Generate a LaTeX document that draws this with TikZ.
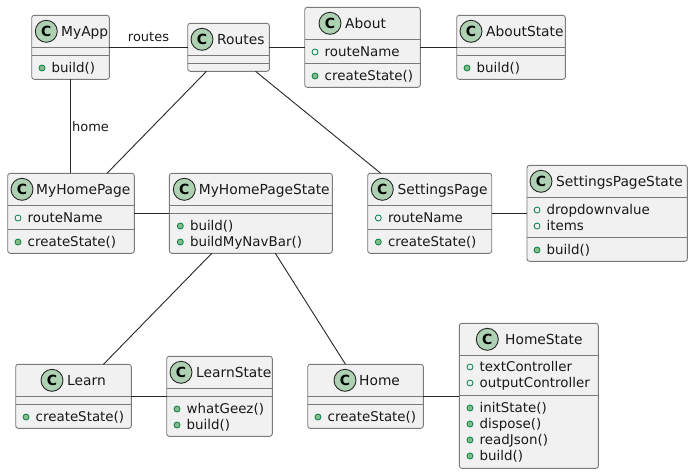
\documentclass[tikz,border=0pt]{standalone}
\usepackage{fontspec}
\setmainfont{DejaVu Sans}
\newcounter{mbr}
\definecolor{boxfill}{HTML}{F1F1F1}
\definecolor{boxline}{HTML}{7A7A7A}
\definecolor{spot}{HTML}{ADD1B2}
\definecolor{mfill}{HTML}{84BE84}
\definecolor{mline}{HTML}{038048}
\tikzset{
  umlbox/.style={draw=boxline,fill=boxfill,line width=0.9pt,rounded corners=2.5pt,inner sep=0pt,outer sep=0pt},
  divider/.style={draw=boxline,line width=0.9pt},
  spotc/.style={circle,draw=black!85,fill=spot,line width=0.9pt,minimum size=22pt,inner sep=0pt,font=\fontsize{14}{14}\selectfont\bfseries},
  txt/.style={inner sep=0pt,anchor=base west,font=\fontsize{13.4}{16}\selectfont,text=black!90},
  ttl/.style={inner sep=0pt,anchor=base west,font=\fontsize{13.8}{16}\selectfont,text=black!90},
  lbl/.style={inner sep=0pt,anchor=base,font=\fontsize{13}{14}\selectfont,text=black!90},
  attrdot/.style={draw=mline,line width=0.8pt,fill=none},
  methdot/.style={draw=mline,line width=0.8pt,fill=mfill},
  conn/.style={draw=black!85,line width=0.9pt},
}
% name, x1,y1,x2,y2, div1, div2, spot x, text x, title
\newcommand{\umlclass}[9]{%
  \node[umlbox,minimum width=#4 pt-#2 pt,minimum height=#5 pt-#3 pt] (#1) at ({(#2+#4)/2},{(#3+#5)/2}) {};
  \def\tmpAy{#3}\def\tmpAx{#2}\def\tmpBx{#4}%
  \umlclassB{#1}{#6}{#7}{#8}{#9}%
}
\newcommand{\umlclassB}[5]{%
  \draw[divider] (\tmpAx,#2) -- (\tmpBx,#2);
  \draw[divider] (\tmpAx,#3) -- (\tmpBx,#3);
  \node[spotc] (#1-spot) at (#4,#2-16) {C};
  \node[ttl] (#1-title) at (#5,#2-11) {\csname title@#1\endcsname};
}
\newcommand{\settitle}[2]{\expandafter\def\csname title@#1\endcsname{#2}}
% dot x, text baseline y centre, text, dot style
\newcommand{\mbr}[4]{%
  \stepcounter{mbr}%
  \draw[#4] (#1,#2) circle (3pt);
  \node[txt] (m\arabic{mbr}) at (#1+9.5,#2+4.7) {#3};
}
\begin{document}
\begin{tikzpicture}[x=1pt,y=-1pt]
\useasboundingbox (0,0) rectangle (692,474);
\settitle{myapp}{MyApp}\settitle{routes}{Routes}\settitle{about}{About}\settitle{aboutstate}{AboutState}
\settitle{myhomepage}{MyHomePage}\settitle{myhomepagestate}{MyHomePageState}\settitle{settingspage}{SettingsPage}\settitle{settingspagestate}{SettingsPageState}
\settitle{learn}{Learn}\settitle{learnstate}{LearnState}\settitle{home}{Home}\settitle{homestate}{HomeState}

\umlclass{myapp}{31.7}{15.3}{109.3}{79.3}{47.3}{55.3}{46.3}{61}
\umlclass{routes}{187.7}{23.3}{269.3}{71.3}{55.3}{63.3}{202}{217}
\umlclass{about}{304.7}{7.3}{420.3}{87.3}{39.3}{63.3}{330}{345}
\umlclass{aboutstate}{456.7}{15.3}{565.3}{79.3}{47.3}{55.3}{471}{486}
\umlclass{myhomepage}{7.7}{173.3}{134.3}{253.3}{205.3}{229.3}{22}{36}
\umlclass{myhomepagestate}{169.3}{173.3}{332.3}{253.3}{205.3}{213.3}{184.3}{198.7}
\umlclass{settingspage}{367.7}{173.3}{491.7}{253.3}{205.3}{229.3}{382.3}{397.3}
\umlclass{settingspagestate}{527}{165.3}{687.3}{261.3}{197.3}{237.3}{541}{556}
\umlclass{learn}{15.7}{364.3}{131.3}{428.3}{396.3}{404.3}{52}{67}
\umlclass{learnstate}{166.7}{356.3}{272.3}{436.3}{388.3}{396.3}{181}{196}
\umlclass{home}{307.7}{364.3}{423.3}{428.3}{396.3}{404.3}{345}{359}
\umlclass{homestate}{459.3}{323.3}{598.3}{468.3}{355.3}{395.3}{487.3}{505}

\mbr{42}{68}{build()}{methdot}
\mbr{315}{52}{routeName}{attrdot}
\mbr{315}{76}{createState()}{methdot}
\mbr{467}{68}{build()}{methdot}
\mbr{18}{218}{routeName}{attrdot}
\mbr{18}{242}{createState()}{methdot}
\mbr{180.3}{226}{build()}{methdot}
\mbr{180.3}{242}{buildMyNavBar()}{methdot}
\mbr{378.3}{218}{routeName}{attrdot}
\mbr{378.3}{242}{createState()}{methdot}
\mbr{537}{210}{dropdownvalue}{attrdot}
\mbr{537}{226}{items}{attrdot}
\mbr{537}{250}{build()}{methdot}
\mbr{26}{417}{createState()}{methdot}
\mbr{177}{409}{whatGeez()}{methdot}
\mbr{177}{425}{build()}{methdot}
\mbr{318}{417}{createState()}{methdot}
\mbr{470}{367}{textController}{attrdot}
\mbr{470}{383}{outputController}{attrdot}
\mbr{470}{408}{initState()}{methdot}
\mbr{470}{424}{dispose()}{methdot}
\mbr{470}{440}{readJson()}{methdot}
\mbr{470}{456}{build()}{methdot}

\draw[conn] (myapp.east) -- (routes.west);
\draw[conn] (routes.east) -- (about.west);
\draw[conn] (about.east) -- (aboutstate.west);
\draw[conn] (myapp.south) -- (myhomepage.north -| myapp.south);
\draw[conn] ([xshift=-22pt]routes.south) -- ([xshift=36pt]myhomepage.north);
\draw[conn] ([xshift=27pt]routes.south) -- ([xshift=-49pt]settingspage.north);
\draw[conn] (myhomepage.east) -- (myhomepagestate.west);
\draw[conn] (settingspage.east) -- (settingspagestate.west);
\draw[conn] ([xshift=-39pt]myhomepagestate.south) -- ([xshift=30pt]learn.north);
\draw[conn] ([xshift=24.5pt]myhomepagestate.south) -- ([xshift=-20pt]home.north);
\draw[conn] (learn.east) -- (learnstate.west);
\draw[conn] (home.east) -- (homestate.west |- home.east);
\node[lbl] (routeslabel) at (148.5,41) {routes};
\node[lbl] (homelabel) at (90.5,131) {home};
\end{tikzpicture}
\end{document}
